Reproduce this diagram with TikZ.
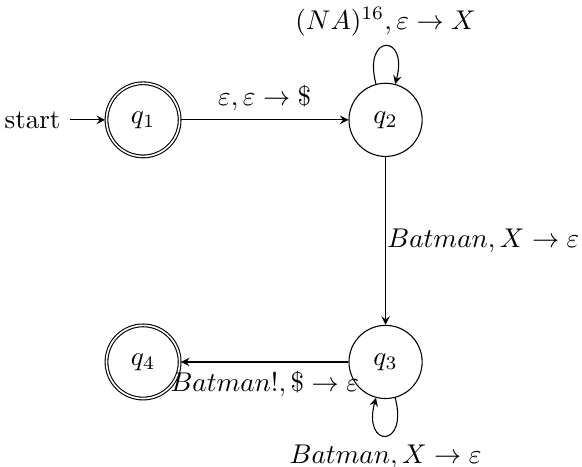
\documentclass[tikz,border=0pt]{standalone}
\usepackage{amsmath}
\usepackage{tikz}
\usetikzlibrary{arrows,automata,positioning}

\begin{document}
\begin{tikzpicture}[x=3.145cm,y=3.14cm,->,>=stealth,auto,
    every state/.style={minimum size=2.7em},every loop/.style={looseness=7},
    initial text=start]
  \useasboundingbox (-0.59,0.495) rectangle (1.81,-1.43);
  \node[state,initial,accepting] (q1) at (0,0) {$q_1$};
  \node[state] (q2) at (1,0) {$q_2$};
  \node[state] (q3) at (1,-1) {$q_3$};
  \node[state,accepting] (q4) at (0,-1) {$q_4$};
  \draw (q1) edge node {$\varepsilon,\varepsilon\to\$$} (q2)
        (q2) edge[loop above] node[above] {$(NA)^{16},\varepsilon\to X$} (q2)
        (q2) edge node[right,inner sep=0.5pt] {$Batman,X\to\varepsilon$} (q3)
        (q3) edge node[below] {$Batman!,\$\to\varepsilon$} (q4)
        (q3) edge[loop below] node[below] {$Batman,X\to\varepsilon$} (q3);
\end{tikzpicture}
\end{document}
